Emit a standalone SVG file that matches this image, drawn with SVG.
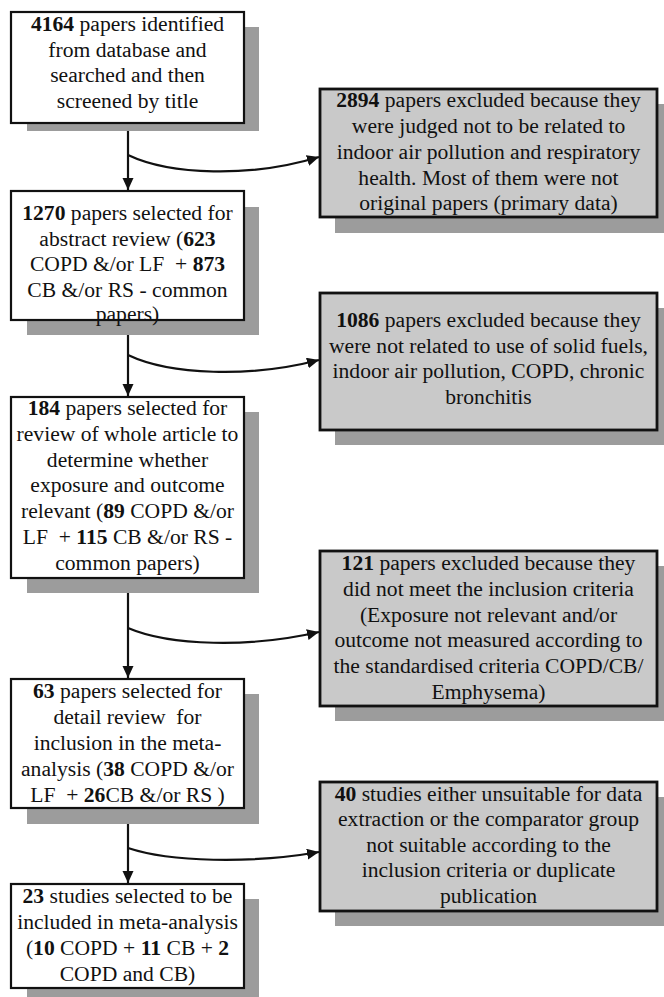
<svg xmlns="http://www.w3.org/2000/svg" width="664" height="997" viewBox="0 0 664 997">
<defs>
<style>
.bg{fill:#ffffff}
.sh{fill:#9c9c9c}
.bx{fill:#ffffff;stroke:#111;stroke-width:2.2}
.rx{fill:#c9c9c9;stroke:#111;stroke-width:2.8}
text{font-family:"Liberation Serif","Times New Roman",serif;font-size:21.6px;fill:#111;text-anchor:middle}
.b{font-weight:bold}
.c{fill:none;stroke:#111;stroke-width:2.2}
</style>
<marker id="ah" markerUnits="userSpaceOnUse" markerWidth="13" markerHeight="12" refX="12" refY="5.5" orient="auto">
<path d="M0,0 L12,5.5 L0,11 z" fill="#111"/>
</marker>
</defs>
<rect class="bg" x="0" y="0" width="664" height="997"/>

<g id="connectors">
<line class="c" x1="128" y1="123" x2="128" y2="190" marker-end="url(#ah)"/>
<line class="c" x1="128" y1="320" x2="128" y2="396" marker-end="url(#ah)"/>
<line class="c" x1="128" y1="578" x2="128" y2="678" marker-end="url(#ah)"/>
<line class="c" x1="128" y1="808" x2="128" y2="883" marker-end="url(#ah)"/>
<path class="c" d="M128,155 C170,175 250,178 319,157" marker-end="url(#ah)"/>
<path class="c" d="M128,355 C170,375 250,378 319,360" marker-end="url(#ah)"/>
<path class="c" d="M128,628 C170,646 250,648 319,632" marker-end="url(#ah)"/>
<path class="c" d="M128,848 C170,862 250,864 319,852" marker-end="url(#ah)"/>
</g>

<g id="n1">
<rect class="sh" x="27" y="27" width="232" height="104"/>
<rect class="bx" x="11" y="12" width="233" height="111"/>
<text x="127.5" y="31"><tspan class="b">4164</tspan> papers identified</text>
<text x="127.5" y="57">from database and</text>
<text x="127.5" y="82">searched and then</text>
<text x="127.5" y="108">screened by title</text>
</g>

<g id="n2">
<rect class="sh" x="27" y="207" width="232" height="128"/>
<rect class="bx" x="11" y="191" width="233" height="129"/>
<text x="127.5" y="220"><tspan class="b">1270</tspan> papers selected for</text>
<text x="127.5" y="246">abstract review (<tspan class="b">623</tspan></text>
<text x="127.5" y="271" xml:space="preserve">COPD &amp;/or LF  + <tspan class="b">873</tspan></text>
<text x="127.5" y="297">CB &amp;/or RS - common</text>
<text x="127.5" y="321">papers)</text>
</g>

<g id="n3">
<rect class="sh" x="27" y="412" width="232" height="181"/>
<rect class="bx" x="11" y="397" width="233" height="181"/>
<text x="127.5" y="415"><tspan class="b">184</tspan> papers selected for</text>
<text x="127.5" y="441">review of whole article to</text>
<text x="127.5" y="467">determine whether</text>
<text x="127.5" y="492">exposure and outcome</text>
<text x="127.5" y="518">relevant (<tspan class="b">89</tspan> COPD &amp;/or</text>
<text x="127.5" y="544" xml:space="preserve">LF  + <tspan class="b">115</tspan> CB &amp;/or RS -</text>
<text x="127.5" y="570">common papers)</text>
</g>

<g id="n4">
<rect class="sh" x="27" y="694" width="232" height="130"/>
<rect class="bx" x="11" y="679" width="233" height="129"/>
<text x="127.5" y="698"><tspan class="b">63</tspan> papers selected for</text>
<text x="127.5" y="724" xml:space="preserve">detail review  for</text>
<text x="127.5" y="750">inclusion in the meta-</text>
<text x="127.5" y="776">analysis (<tspan class="b">38</tspan> COPD &amp;/or</text>
<text x="127.5" y="802" xml:space="preserve">LF  + <tspan class="b">26</tspan>CB &amp;/or RS )</text>
</g>

<g id="n5">
<rect class="sh" x="27" y="899" width="232" height="98"/>
<rect class="bx" x="11" y="884" width="233" height="104"/>
<text x="127.5" y="903"><tspan class="b">23</tspan> studies selected to be</text>
<text x="127.5" y="929">included in meta-analysis</text>
<text x="127.5" y="955">(<tspan class="b">10</tspan> COPD + <tspan class="b">11</tspan> CB + <tspan class="b">2</tspan></text>
<text x="127.5" y="981">COPD and CB)</text>
</g>

<g id="r1">
<rect class="sh" x="335" y="104" width="340" height="129"/>
<rect class="rx" x="320" y="89" width="337" height="128"/>
<text x="488.5" y="107"><tspan class="b">2894</tspan> papers excluded because they</text>
<text x="488.5" y="133">were judged not to be related to</text>
<text x="488.5" y="159">indoor air pollution and respiratory</text>
<text x="488.5" y="185">health. Most of them were not</text>
<text x="488.5" y="210">original papers (primary data)</text>
</g>

<g id="r2">
<rect class="sh" x="335" y="308" width="340" height="137"/>
<rect class="rx" x="320" y="293" width="337" height="137"/>
<text x="488.5" y="327"><tspan class="b">1086</tspan> papers excluded because they</text>
<text x="488.5" y="353">were not related to use of solid fuels,</text>
<text x="488.5" y="378">indoor air pollution, COPD, chronic</text>
<text x="488.5" y="404">bronchitis</text>
</g>

<g id="r3">
<rect class="sh" x="335" y="566" width="340" height="155"/>
<rect class="rx" x="320" y="551" width="337" height="155"/>
<text x="488.5" y="570"><tspan class="b">121</tspan> papers excluded because they</text>
<text x="488.5" y="596">did not meet the inclusion criteria</text>
<text x="488.5" y="622">(Exposure not relevant and/or</text>
<text x="488.5" y="647">outcome not measured according to</text>
<text x="488.5" y="673">the standardised criteria COPD/CB/</text>
<text x="488.5" y="699">Emphysema)</text>
</g>

<g id="r4">
<rect class="sh" x="335" y="797" width="340" height="129"/>
<rect class="rx" x="320" y="782" width="337" height="129"/>
<text x="488.5" y="801"><tspan class="b">40</tspan> studies either unsuitable for data</text>
<text x="488.5" y="826">extraction or the comparator group</text>
<text x="488.5" y="852">not suitable according to the</text>
<text x="488.5" y="877">inclusion criteria or duplicate</text>
<text x="488.5" y="903">publication</text>
</g>
</svg>
